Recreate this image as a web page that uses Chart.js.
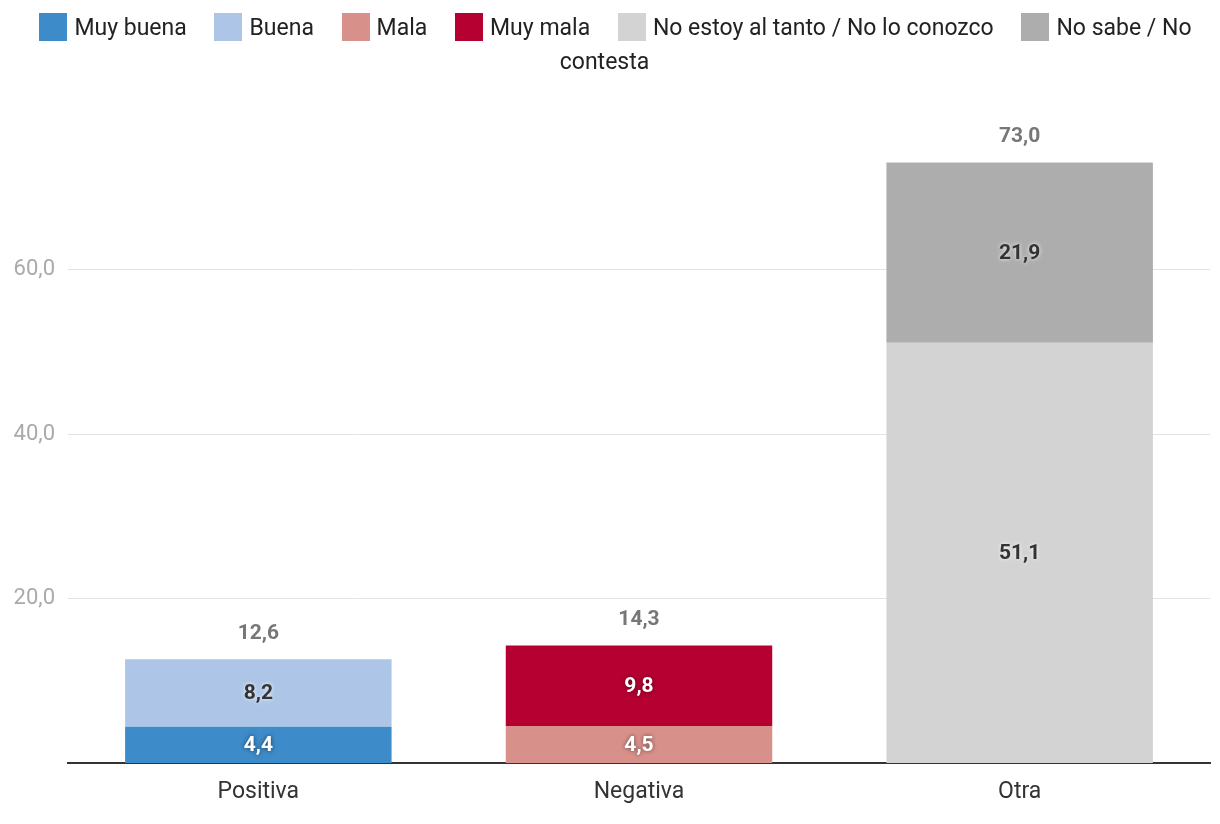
<!DOCTYPE html>
<html>
<head>
    <meta charset="utf-8">
    <title>Valoración</title>
    <script src="https://cdn.jsdelivr.net/npm/chart.js@4.4.3/dist/chart.umd.min.js"></script>
    <style>
        html, body {
            margin: 0;
            padding: 0;
            background: #fff;
            font-family: "Roboto";
        }

        .wrap {
            position: relative;
            width: 1220px;
            height: 824px;
        }

        #legend {
            position: absolute;
            top: 11px;
            left: 8px;
            width: 1204px;
            text-align: center;
            font-size: 23px;
            line-height: 34px;
            color: #222;
        }

        #legend .item {
            margin: 0 11px;
        }

        #legend .box {
            display: inline-block;
            width: 28px;
            height: 28px;
            margin-right: 7px;
            vertical-align: -6px;
        }
    </style>
</head>
<body>
    <div class="wrap">
        <div id="legend"></div>
        <canvas id="chart" width="1220" height="824"></canvas>
    </div>

    <script>
        const categories = ['Positiva', 'Negativa', 'Otra']
        const seriesNames = ['Muy buena', 'Buena', 'Mala', 'Muy mala', 'No estoy al tanto / No lo conozco', 'No sabe / No contesta']
        const muyBuena = [4.4, null, null]
        const buena = [8.2, null, null]
        const mala = [null, 4.5, null]
        const muyMala = [null, 9.8, null]
        const noEstoy = [null, null, 51.1]
        const noSabe = [null, null, 21.9]
        const yTicks = [20, 40, 60]

        const colors = ['#3d8bc8', '#adc5e7', '#d8908a', '#b50031', '#d3d3d3', '#adadad']
        const labelColors = ['#fff', '#333', '#fff', '#fff', '#333', '#333']

        const fmt = v => v.toFixed(1).replace('.', ',')

        const seriesData = [muyBuena, buena, mala, muyMala, noEstoy, noSabe]

        // html legend so the last item can wrap like the original
        const legend = document.getElementById('legend')
        seriesNames.forEach((name, i) => {
            const item = document.createElement('span')
            item.className = 'item'
            const box = document.createElement('span')
            box.className = 'box'
            box.style.background = colors[i]
            item.appendChild(box)
            item.appendChild(document.createTextNode(name))
            legend.appendChild(item)
            legend.appendChild(document.createTextNode(' '))
        })

        const labelsPlugin = {
            id: 'labels',
            afterDatasetsDraw(chart) {
                const ctx = chart.ctx
                ctx.save()
                ctx.textAlign = 'center'
                ctx.textBaseline = 'middle'
                ctx.font = 'bold 21px Roboto'

                const tops = categories.map(() => null)
                const totals = categories.map(() => 0)

                chart.data.datasets.forEach((ds, di) => {
                    const meta = chart.getDatasetMeta(di)
                    meta.data.forEach((el, i) => {
                        const v = ds.data[i]
                        if (v === null) return
                        totals[i] += v
                        if (tops[i] === null || el.y < tops[i]) tops[i] = el.y
                        const white = labelColors[di] === '#fff'
                        ctx.shadowColor = white ? 'rgba(0,0,0,0.55)' : 'rgba(255,255,255,0.9)'
                        ctx.shadowBlur = 4
                        ctx.fillStyle = labelColors[di]
                        ctx.fillText(fmt(v), el.x, (el.y + el.base) / 2 + 1)
                    })
                })

                ctx.shadowBlur = 0
                ctx.shadowColor = 'transparent'
                ctx.fillStyle = '#777'
                categories.forEach((c, i) => {
                    const x = chart.scales.x.getPixelForValue(i)
                    ctx.fillText(fmt(totals[i]), x, tops[i] - 26)
                })
                ctx.restore()
            }
        }

        new Chart(document.getElementById('chart'), {
            type: 'bar',
            data: {
                labels: categories,
                datasets: seriesNames.map((name, i) => ({
                    label: name,
                    data: seriesData[i],
                    backgroundColor: colors[i],
                    borderWidth: 0,
                    barPercentage: 0.7,
                    categoryPercentage: 1,
                    skipNull: true
                }))
            },
            options: {
                responsive: false,
                animation: false,
                layout: {
                    padding: { top: 105, right: 10, left: 0, bottom: 0 }
                },
                plugins: {
                    legend: { display: false },
                    tooltip: { enabled: false }
                },
                scales: {
                    x: {
                        stacked: true,
                        grid: { display: false },
                        border: { color: '#333', width: 2 },
                        ticks: {
                            color: '#333',
                            font: { family: 'Roboto', size: 23 },
                            padding: 7
                        },
                        afterFit: s => { s.height = 61 }
                    },
                    y: {
                        stacked: true,
                        min: 0,
                        max: 80,
                        afterBuildTicks: s => { s.ticks = yTicks.map(v => ({ value: v })) },
                        grid: { color: '#e3e3e3', lineWidth: 1, drawTicks: false },
                        border: { display: false },
                        ticks: {
                            color: '#aaa',
                            font: { family: 'Roboto', size: 22 },
                            padding: 13,
                            callback: v => fmt(v)
                        },
                        afterFit: s => { s.width = 68 }
                    }
                }
            },
            plugins: [labelsPlugin]
        })
    </script>
</body>
</html>
